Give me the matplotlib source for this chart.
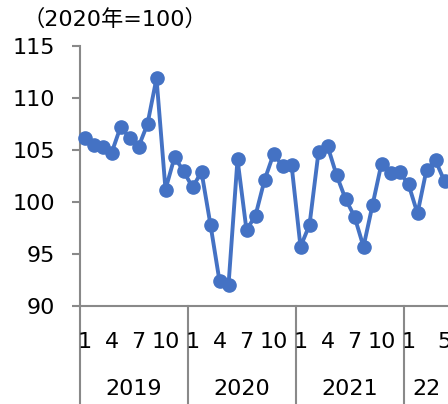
import matplotlib.pyplot as plt
import matplotlib.transforms as mtransforms

plt.rcParams['font.family'] = ['DejaVu Sans', 'Noto Sans CJK JP']

# monthly index, 2020 = 100
years = ['2019', '2020', '2021', '22']
v2019 = [106.2, 105.5, 105.3, 104.7, 107.2, 106.2, 105.3, 107.5, 111.9, 101.2, 104.3, 103.0]
v2020 = [101.4, 102.9, 97.8, 92.4, 92.0, 104.1, 97.3, 98.7, 102.1, 104.6, 103.5, 103.6]
v2021 = [95.7, 97.8, 104.8, 105.4, 102.6, 100.3, 98.6, 95.7, 99.7, 103.7, 102.8, 102.9]
v2022 = [101.7, 98.9, 103.1, 104.0, 102.0]
month_ticks = [1, 4, 7, 10]
month_ticks_last = [1, 5]

values = v2019 + v2020 + v2021 + v2022
x = list(range(len(values)))

blue = '#4472C4'
gray = '#898989'
fs = 16

fig = plt.figure(figsize=(4.48, 4.04), dpi=100)
ax = fig.add_axes([80 / 448, 98 / 404, 368 / 448, 260 / 404])

ax.plot(x, values, color=blue, lw=2.8, marker='o', ms=9.5,
        solid_joinstyle='round', clip_on=False, zorder=3)

xmax = -0.5 + 368 / 9
ax.set_xlim(-0.5, xmax)
ax.set_ylim(90, 115)
ax.set_yticks([90, 95, 100, 105, 110, 115])
ax.tick_params(axis='y', labelsize=fs, length=6, width=1.5, color=gray, pad=12)
ax.set_xticks([])

for s in ['top', 'right']:
    ax.spines[s].set_visible(False)
for s in ['left', 'bottom']:
    ax.spines[s].set_color(gray)
    ax.spines[s].set_linewidth(1.5)

trans = mtransforms.blended_transform_factory(ax.transData, ax.transAxes)

# month labels and year separators below the axis
start = 0
for i, yr in enumerate(years):
    ax.plot([start - 0.5, start - 0.5], [0, -98 / 260], transform=trans,
            color=gray, lw=1.5, clip_on=False)
    ticks = month_ticks if i < 3 else month_ticks_last
    for m in ticks:
        ax.text(start + m - 1, -36 / 260, str(m), transform=trans,
                ha='center', va='center', fontsize=fs)
    if i < 3:
        mid = start + 5.5
    else:
        mid = (start - 0.5 + xmax) / 2
    ax.text(mid, -83 / 260, yr, transform=trans,
            ha='center', va='center', fontsize=fs)
    start += 12

fig.text(22 / 448, 1 - 19 / 404, '（2020年=100）', ha='left', va='center', fontsize=fs)

fig.savefig('out.png', dpi=100)
